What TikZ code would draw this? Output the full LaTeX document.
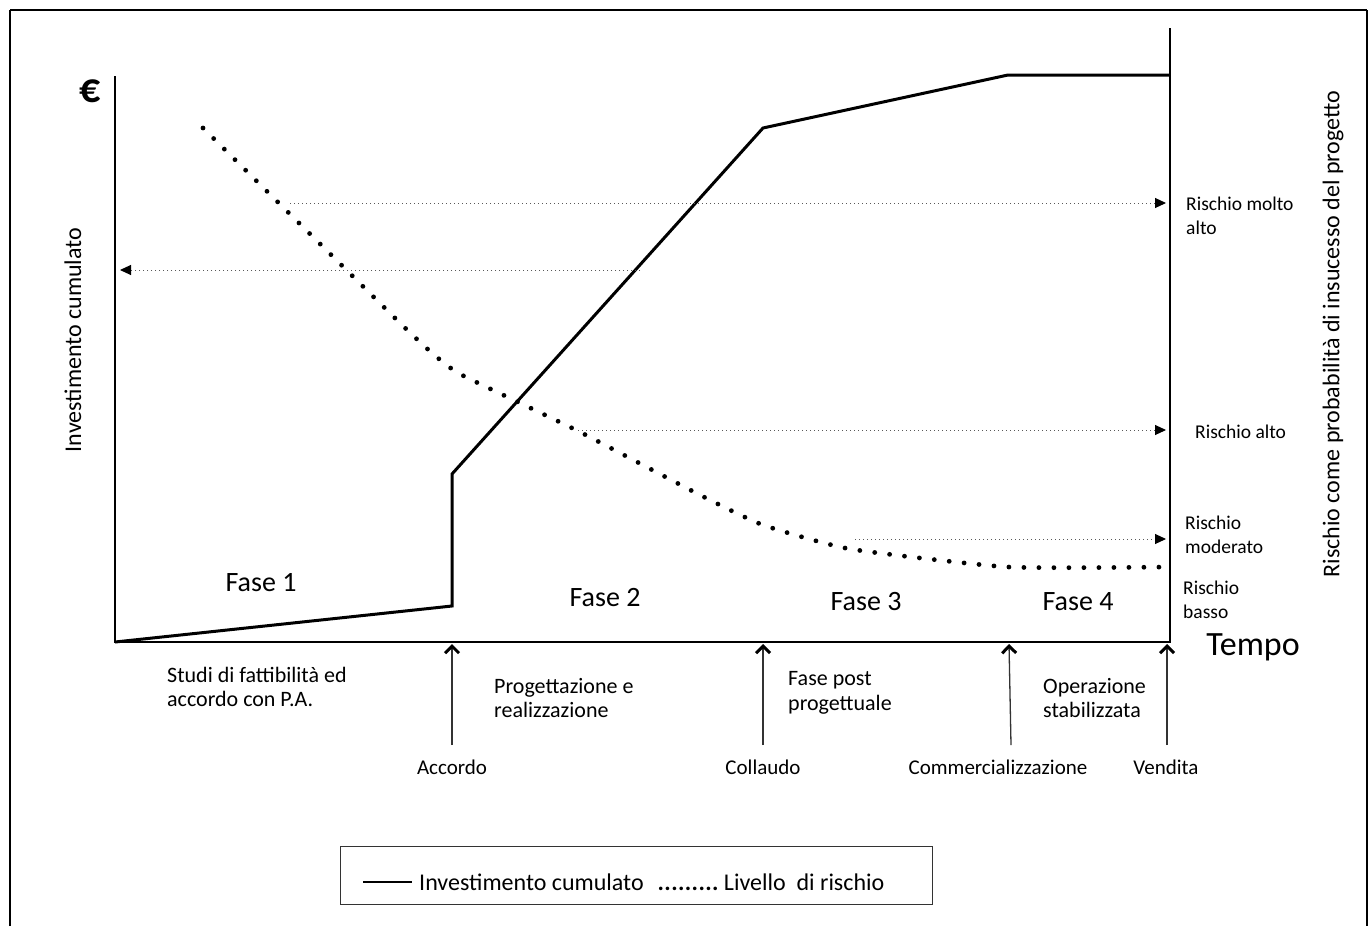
\documentclass[tikz,border=0pt]{standalone}
\usepackage{fontspec}
\setmainfont{Carlito}
\usetikzlibrary{arrows.meta}
\newcommand\fsz[2]{\fontsize{#1}{#2}\selectfont}
\newcommand\legdot{\textbf{.}\kern0.4pt}
\begin{document}
\begin{tikzpicture}[x=1pt,y=-1pt,
  axis/.style={line width=1.2pt,black},
  invest/.style={line width=3pt,black,line join=miter},
  riskdots/.style={line width=4.8pt,line cap=round,dash pattern=on 0pt off 15pt,black},
  levelarrow/.style={line width=1pt,gray!70!black,dash pattern=on 1pt off 3pt,-{Triangle[length=11pt,width=10pt,black]}},
  milestone/.style={line width=1.3pt,black!80,-{Straight Barb[length=7pt,width=14pt,line width=3pt,black]}},
  txt/.style={inner sep=0pt,font=\fsz{21}{24}},
  risklab/.style={inner sep=0pt,font=\fsz{19.5}{23.5},anchor=west,align=left},
  phaselab/.style={inner sep=0pt,font=\fsz{28}{30}},
  desc/.style={inner sep=0pt,font=\fsz{22}{24.5},anchor=west,align=left}
]
\useasboundingbox (0,0) rectangle (1370,926);
% outer frame
\coordinate (fbl) at (10,926);
\coordinate (ftl) at (10,10);
\coordinate (ftr) at (1367,10);
\coordinate (fbr) at (1367,926);
\draw[line width=2.5pt] (fbl) -- (ftl);
\draw[line width=1.5pt] (ftl) -- (ftr);
\draw[line width=2pt] (ftr) -- (fbr);

% axes
\coordinate (O) at (115,642);
\coordinate (Ytop) at (115,76);
\coordinate (Xend) at (1170,642);
\coordinate (Rtop) at (1170,28);
\draw[axis] (Ytop) -- (O) -- (Xend) -- (Rtop);

% axis labels
\node[inner sep=0pt,font=\fsz{42}{46}\bfseries] (euro) at (90,91) {€};
\node[inner sep=0pt,font=\fsz{24}{28},rotate=90] (ylab) at (73,340) {Investimento cumulato};
\node[inner sep=0pt,font=\fsz{24}{28},rotate=90] (rlab) at (1333,334) {Rischio come probabilità di insucesso del progetto};
\node[inner sep=0pt,font=\fsz{34}{38}] (tempo) at (1253,647) {Tempo};

% investment curve
\coordinate (i1) at (452,606);
\coordinate (i2) at (452,474);
\coordinate (i3) at (763,128);
\coordinate (i4) at (1008,75);
\coordinate (i5) at (1170,75);
\draw[invest] (O) -- (i1) -- (i2) -- (i3) -- (i4) -- (i5);

% risk curve
\draw[riskdots] plot[smooth,tension=0.3] coordinates {(203,128) (300,224) (400,323) (432,353) (458,373) (520,403) (582,433) (700,495) (763,525) (850,549) (1008,567) (1170,567)};

% risk level arrows
\coordinate (a1s) at (290,203);
\coordinate (a1e) at (1166,203);
\coordinate (a2s) at (640,270);
\coordinate (a2e) at (120,270);
\coordinate (a3s) at (578,430);
\coordinate (a3e) at (1166,430);
\coordinate (a4s) at (855,539);
\coordinate (a4e) at (1166,539);
\draw[levelarrow] (a1s) -- (a1e);
\draw[levelarrow] (a2s) -- (a2e);
\draw[levelarrow] (a3s) -- (a3e);
\draw[levelarrow] (a4s) -- (a4e);

% risk labels
\node[risklab] (r1) at (1186,216) {Rischio molto\\alto};
\node[risklab] (r2) at (1195,432) {Rischio alto};
\node[risklab] (r3) at (1185,535) {Rischio\\moderato};
\node[risklab] (r4) at (1183,600) {Rischio\\basso};

% phase labels
\node[phaselab] (f1) at (261,583) {Fase 1};
\node[phaselab] (f2) at (605,598) {Fase 2};
\node[phaselab] (f3) at (866,602) {Fase 3};
\node[phaselab] (f4) at (1078,602) {Fase 4};

% milestone arrows
\coordinate (m1b) at (452,745);
\coordinate (m1t) at (452,644);
\coordinate (m2b) at (763,745);
\coordinate (m2t) at (763,644);
\coordinate (m3b) at (1011,745);
\coordinate (m3t) at (1009,644);
\coordinate (m4b) at (1167,745);
\coordinate (m4t) at (1167,644);
\draw[milestone] (m1b) -- (m1t);
\draw[milestone] (m2b) -- (m2t);
\draw[milestone] (m3b) -- (m3t);
\draw[milestone] (m4b) -- (m4t);

\node[txt] (accordo) at (452,767) {Accordo};
\node[txt] (collaudo) at (763,767) {Collaudo};
\node[txt] (comm) at (998,767) {Commercializzazione};
\node[txt] (vendita) at (1166,767) {Vendita};

% phase descriptions
\node[desc] (d1) at (167,687) {Studi di fattibilità ed\\accordo con P.A.};
\node[desc] (d2) at (494,698) {Progettazione e\\realizzazione};
\node[desc] (d3) at (788,693) {Fase post\\progettuale};
\node[desc] (d4) at (1043,698) {Operazione\\stabilizzata};

% legend
\node[draw=black!80,line width=1pt,minimum width=592pt,minimum height=58pt,inner sep=0pt] (legend) at (636,875) {};
\coordinate (lg1) at (363,882);
\coordinate (lg2) at (412,882);
\draw[line width=1.2pt] (lg1) -- (lg2);
\node[inner sep=0pt,anchor=west,font=\fsz{24}{28}] (legtxt) at (419,882) {Investimento cumulato\hspace{14pt}\legdot\legdot\legdot\legdot\legdot\legdot\legdot\legdot\textbf{.}\ Livello\ \ di rischio};
\end{tikzpicture}
\end{document}
